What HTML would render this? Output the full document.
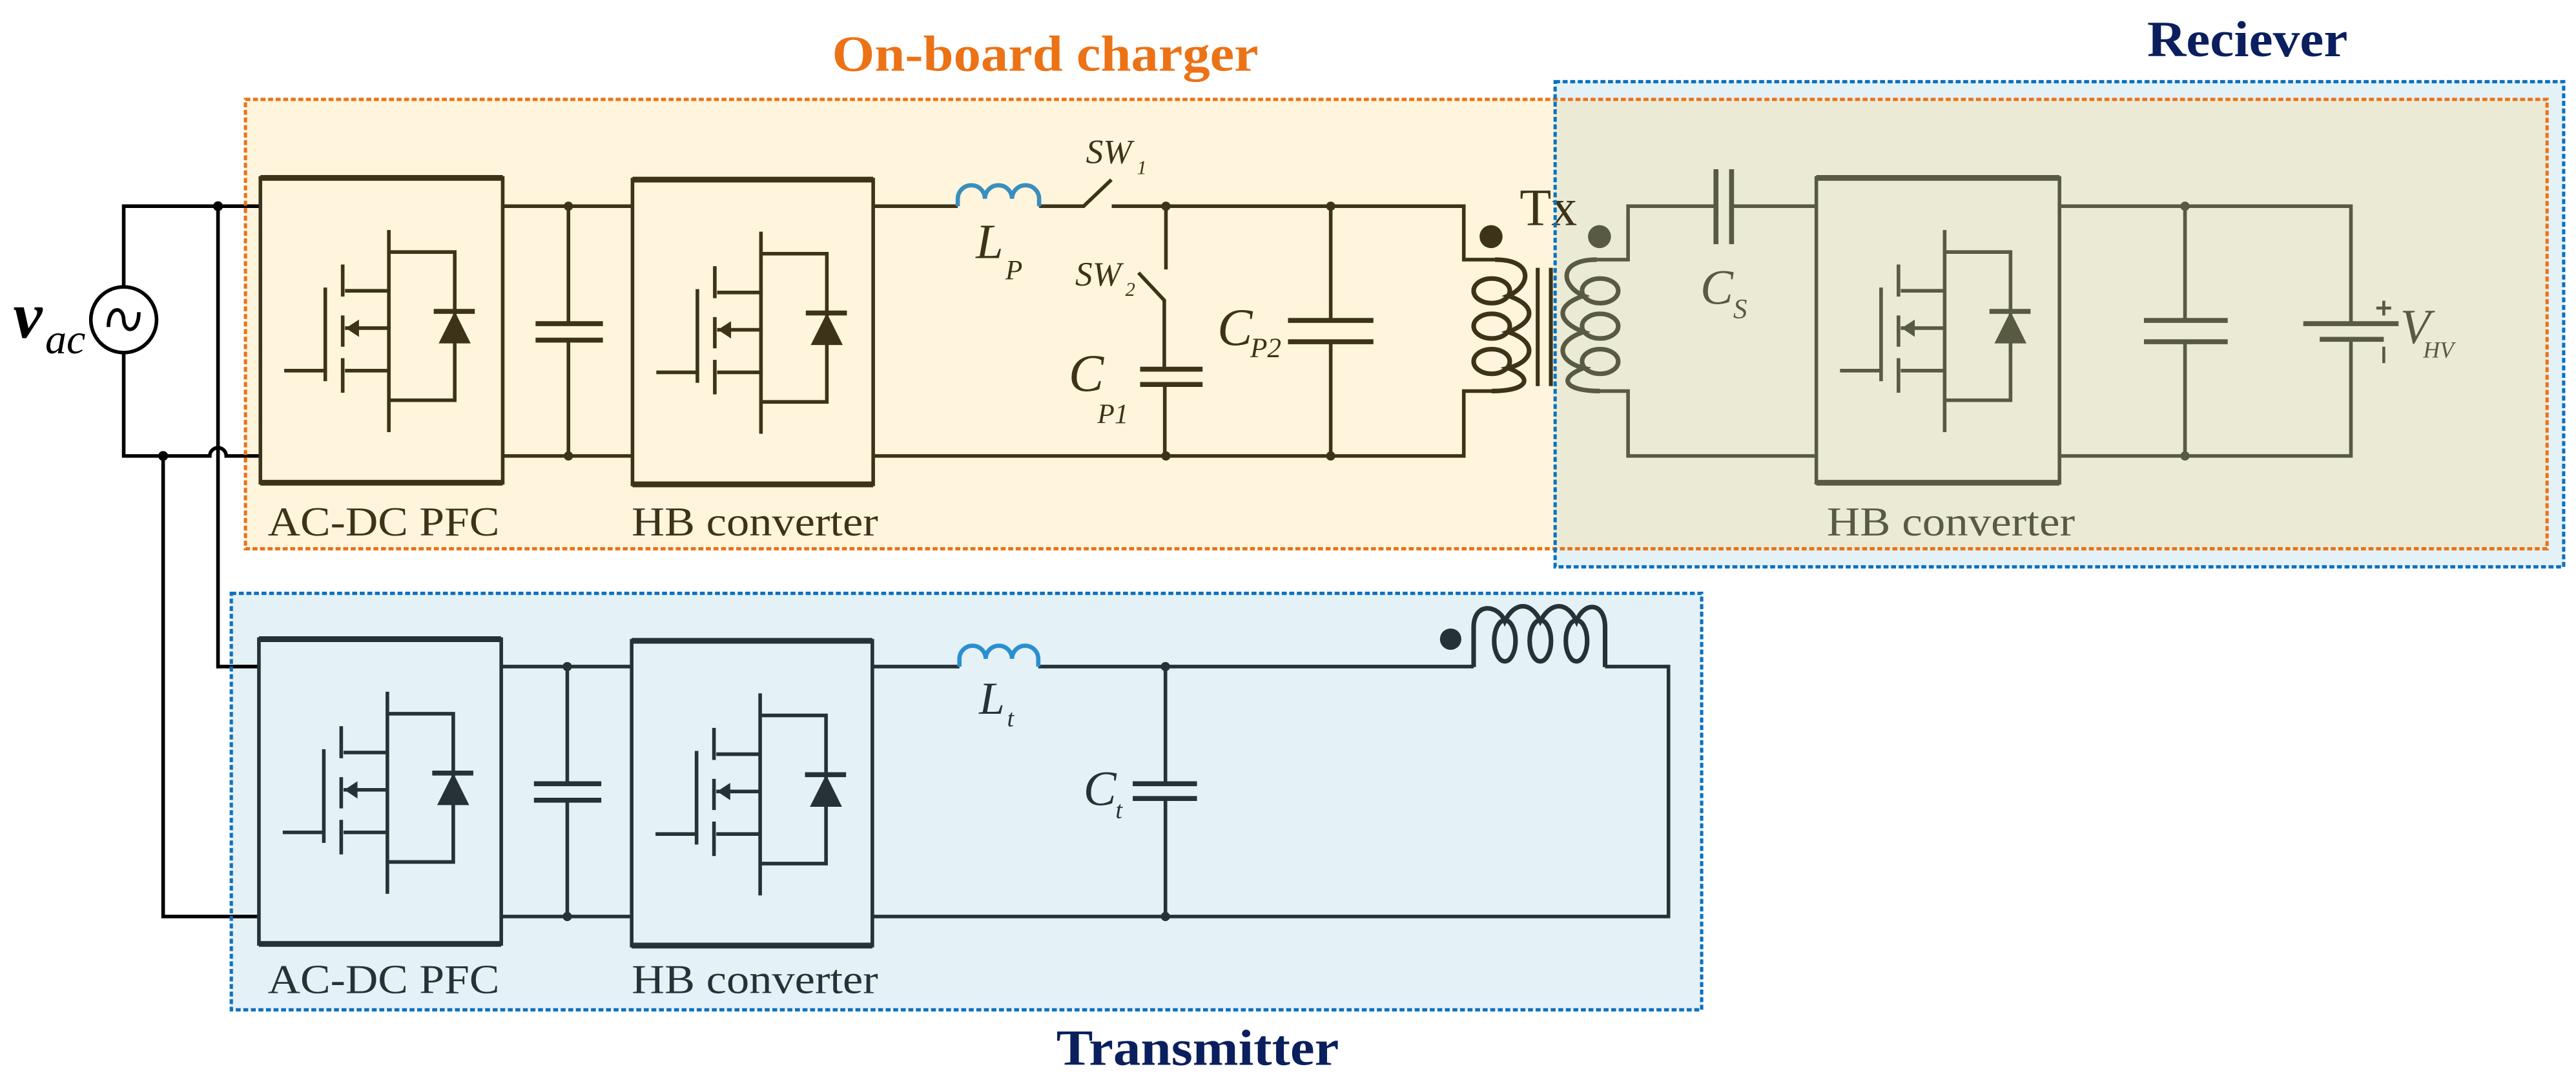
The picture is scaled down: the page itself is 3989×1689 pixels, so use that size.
<!DOCTYPE html>
<html><head><meta charset="utf-8"><style>
html,body{margin:0;padding:0;background:#fff;}
svg{display:block;}
text{font-family:"Liberation Serif",serif;}
</style></head><body>
<svg width="3989" height="1689" viewBox="0 0 1568 664" preserveAspectRatio="none" xmlns="http://www.w3.org/2000/svg">
<defs>
<g id="mos">
  <g fill="none" stroke="currentColor" stroke-width="2.2">
    <path d="M173,225.6 H198 M198,175 V232 M208.6,161 V180.5 M208.6,192 V211 M208.6,218 V239 M210,177 H236.7 M236.7,140 V263 M210,199.7 H236.7 M210,225.6 H236.7 M236.7,153.4 H276.8 V243.6 H236.7"/>
    <path d="M264,189.5 H289" stroke-width="3"/>
  </g>
  <polygon points="276.8,189.5 267,209 286.5,209" fill="currentColor"/>
  <polygon points="210.5,199.7 218.5,194.5 218.5,205" fill="currentColor"/>
</g>
</defs>
<!-- backgrounds -->
<rect x="149.4" y="60.5" width="1401" height="273.5" fill="#fef5dc"/>
<rect x="946.6" y="49.7" width="613.9" height="295.3" fill="#e4f1f6"/>
<rect x="946.6" y="60.5" width="603.9" height="273.5" fill="#ebebd5"/>
<rect x="140.8" y="361.1" width="895" height="253.5" fill="#e4f1f6"/>

<!-- titles -->
<text x="506.5" y="43" font-size="31" font-weight="bold" fill="#ec7216" textLength="259.5" lengthAdjust="spacingAndGlyphs">On-board charger</text>
<text x="1307" y="34.3" font-size="31" font-weight="bold" fill="#0b1f5e" textLength="122" lengthAdjust="spacingAndGlyphs">Reciever</text>
<text x="643" y="648" font-size="31" font-weight="bold" fill="#0b1f5e" textLength="172" lengthAdjust="spacingAndGlyphs">Transmitter</text>

<!-- source & left wiring -->
<g stroke="#000" stroke-width="2.2" fill="none">
  <path d="M75.3,174.6 V125.5 H158.5"/>
  <path d="M75.3,214.6 V277.5 H127.7 A5,5 0 0 1 137.7,277.5 H158.5"/>
  <circle cx="75.3" cy="194.6" r="20"/>
  <path d="M66,199 C66,186 75,186 75.3,194.6 C75.6,203 84.5,203 84.5,190"/>
  <path d="M132.7,125.5 V405.7 H157.6"/>
  <path d="M99.3,277.5 V557.8 H157.6"/>
</g>
<circle cx="132.7" cy="125.5" r="3" fill="#000"/>
<circle cx="99.3" cy="277.5" r="3" fill="#000"/>
<text x="8" y="205.4" font-size="40" font-style="italic" font-weight="bold" fill="#000">v</text>
<text x="27.5" y="215" font-size="26" font-style="italic" fill="#000">ac</text>

<!-- ===== On-board charger top ===== -->
<g stroke="#3d3319" fill="none" stroke-width="2.2">
  <rect x="158.5" y="108.3" width="147.5" height="185.5"/>
  <path d="M158.5,108.3 H306 M158.5,293.8 H306" stroke-width="3.5"/>
  <rect x="385" y="109.3" width="146.5" height="185.5"/>
  <path d="M385,109.3 H531.5 M385,294.8 H531.5" stroke-width="3.5"/>
  <path d="M306,125.5 H385 M306,277.5 H385 M346,125.5 V197 M346,207 V277.5"/>
  <path d="M326,197 H367 M326,207 H367" stroke-width="3"/>
  <path d="M531.5,125.5 H583 M632.5,125.5 H659.6 L676.5,109.4 M676.7,125.5 H891 V158 H910"/>
  <path d="M531.5,277.5 H891 V238 H910"/>
  <path d="M709.7,125.5 V164 M693,166 L708.7,182.8 V224.7 M709,234 V277.5"/>
  <path d="M694,224.7 H732 M694,234 H732" stroke-width="3"/>
  <path d="M810,125.5 V195 M810,208 V277.5"/>
  <path d="M784,195 H836 M784,208 H836" stroke-width="3"/>
  <g stroke-width="2.8">
    <path d="M910,158 C934,158 932,174 918,180 C936,186 934,196 918,202 C936,208 934,220 918,224 C934,230 930,238 908,238"/>
    <ellipse cx="908" cy="177" rx="11" ry="7.5"/>
    <ellipse cx="908" cy="198.5" rx="11" ry="7.5"/>
    <ellipse cx="908" cy="220" rx="11" ry="7.5"/>
  </g>
  <path d="M936,163 V235 M944,163 V235" stroke-width="2.4"/>
</g>
<use href="#mos" color="#3d3319"/>
<use href="#mos" color="#3d3319" transform="translate(226.5,1)"/>
<g fill="#3d3319">
  <circle cx="346" cy="125.5" r="2.8"/><circle cx="346" cy="277.5" r="2.8"/>
  <circle cx="709.7" cy="125.5" r="2.8"/><circle cx="709.7" cy="277.5" r="2.8"/>
  <circle cx="810" cy="125.5" r="2.8"/><circle cx="810" cy="277.5" r="2.8"/>
  <circle cx="907.6" cy="144" r="7"/>
</g>
<path d="M583,125.5 V121 a4,4 0 0 1 16.5,0 a4,4 0 0 1 16.5,0 a4,4 0 0 1 16.5,0 V125.5" fill="none" stroke="#3a8ebd" stroke-width="2.6"/>
<g fill="#3d3319" font-style="italic">
  <text x="594" y="157" font-size="30">L</text><text x="612" y="170" font-size="17">P</text>
  <text x="661" y="99.3" font-size="21">SW</text><text x="692" y="106" font-size="12">1</text>
  <text x="654.5" y="173.7" font-size="21">SW</text><text x="685" y="180" font-size="12">2</text>
  <text x="650.5" y="237.8" font-size="32">C</text><text x="668" y="257.5" font-size="17">P1</text>
  <text x="741" y="210" font-size="32">C</text><text x="761" y="217.5" font-size="17">P2</text>
</g>
<text x="925" y="137" font-size="32" fill="#3d3319" textLength="35" lengthAdjust="spacingAndGlyphs">Tx</text>
<text x="163" y="326" font-size="25" fill="#3d3319" textLength="141" lengthAdjust="spacingAndGlyphs">AC-DC PFC</text>
<text x="384.5" y="326" font-size="25" fill="#3d3319" textLength="150" lengthAdjust="spacingAndGlyphs">HB converter</text>

<!-- ===== Receiver ===== -->
<g stroke="#595a42" fill="none" stroke-width="2.2">
  <g stroke-width="2.8">
    <path d="M972,158 C948,158 950,174 964,180 C946,186 948,196 964,202 C946,208 948,220 964,224 C948,230 952,238 974,238"/>
    <ellipse cx="974" cy="177" rx="11" ry="7.5"/>
    <ellipse cx="974" cy="198.5" rx="11" ry="7.5"/>
    <ellipse cx="974" cy="220" rx="11" ry="7.5"/>
  </g>
  <path d="M972,158 H991 V125.5 H1044.5 M1054,125.5 H1105.6 M974,238 H991 V277.5 H1105.6"/>
  <path d="M1044.5,103 V148.6 M1054,103 V148.6" stroke-width="3"/>
  <rect x="1105.6" y="108.3" width="148" height="185.5"/>
  <path d="M1105.6,108.3 H1253.6 M1105.6,293.8 H1253.6" stroke-width="3.5"/>
  <path d="M1253.6,125.5 H1431 V197 M1431,206.5 V277.5 H1253.6 M1330,125.5 V195 M1330,208 V277.5"/>
  <path d="M1305,195 H1356 M1305,208 H1356 M1402,197 H1460 M1412,206.5 H1451" stroke-width="3"/>
  <path d="M1451,183 V192 M1446.5,187.5 H1455.5 M1451,211 V221" stroke-width="1.8"/>
</g>
<use href="#mos" color="#595a42" transform="translate(947,0)"/>
<g fill="#595a42">
  <circle cx="1330" cy="125.5" r="2.8"/><circle cx="1330" cy="277.5" r="2.8"/>
  <circle cx="973.6" cy="144" r="7"/>
</g>
<g fill="#595a42" font-style="italic">
  <text x="1035" y="185" font-size="30">C</text><text x="1055" y="193.6" font-size="17">S</text>
  <text x="1461" y="209" font-size="30">V</text><text x="1475" y="217.7" font-size="14">HV</text>
</g>
<text x="1112" y="326" font-size="25" fill="#595a42" textLength="151" lengthAdjust="spacingAndGlyphs">HB converter</text>

<!-- ===== Transmitter ===== -->
<g stroke="#263238" fill="none" stroke-width="2.2">
  <rect x="157.6" y="389" width="147.5" height="185.5"/>
  <path d="M157.6,389 H305 M157.6,574.5 H305" stroke-width="3.5"/>
  <rect x="384.5" y="390" width="146.5" height="185.5"/>
  <path d="M384.5,390 H531 M384.5,575.5 H531" stroke-width="3.5"/>
  <path d="M305,405.7 H384.5 M305,557.8 H384.5 M345.3,405.7 V477 M345.3,487 V557.8"/>
  <path d="M325,477 H366 M325,487 H366 M689.5,477 H728.6 M689.5,486 H728.6" stroke-width="3"/>
  <path d="M531,405.7 H584 M632,405.7 H897 M709.4,405.7 V477 M709.4,486 V557.8 M531,557.8 H1015.6 V405.7 H977"/>
  <g stroke-width="2.8">
    <path d="M897,406 V382 C897,366 912,368 916,378 C922,366 932,366 937.6,378 C944,366 954,366 959.6,378 C964,366 977,366 977,382 V406"/>
    <ellipse cx="916" cy="390" rx="6.5" ry="12.5"/>
    <ellipse cx="937.6" cy="390" rx="6.5" ry="12.5"/>
    <ellipse cx="959.6" cy="390" rx="6.5" ry="12.5"/>
  </g>
</g>
<use href="#mos" color="#263238" transform="translate(-0.9,281)"/>
<use href="#mos" color="#263238" transform="translate(226,282)"/>
<g fill="#263238">
  <circle cx="345.3" cy="405.7" r="2.8"/><circle cx="345.3" cy="557.8" r="2.8"/>
  <circle cx="709.4" cy="405.7" r="2.8"/><circle cx="709.4" cy="557.8" r="2.8"/>
  <circle cx="883" cy="389" r="6.5"/>
</g>
<path d="M584,405.7 V401 a4,4 0 0 1 16,0 a4,4 0 0 1 16,0 a4,4 0 0 1 16,0 V405.7" fill="none" stroke="#2a8fcf" stroke-width="2.6"/>
<g fill="#263238" font-style="italic">
  <text x="596" y="434.5" font-size="28">L</text><text x="613" y="442" font-size="15">t</text>
  <text x="659.5" y="490" font-size="30">C</text><text x="679" y="498" font-size="15">t</text>
</g>
<text x="163" y="604.5" font-size="25" fill="#263238" textLength="141" lengthAdjust="spacingAndGlyphs">AC-DC PFC</text>
<text x="384.5" y="604.5" font-size="25" fill="#263238" textLength="150" lengthAdjust="spacingAndGlyphs">HB converter</text>

<!-- dashed borders -->
<rect x="149.4" y="60.5" width="1401" height="273.5" fill="none" stroke="#ec7216" stroke-width="2" stroke-dasharray="3 1.6"/>
<rect x="946.6" y="49.7" width="613.9" height="295.3" fill="none" stroke="#0c72c0" stroke-width="2" stroke-dasharray="3 1.6"/>
<rect x="140.8" y="361.1" width="895" height="253.5" fill="none" stroke="#0c72c0" stroke-width="2" stroke-dasharray="3 1.6"/>
</svg>
</body></html>
